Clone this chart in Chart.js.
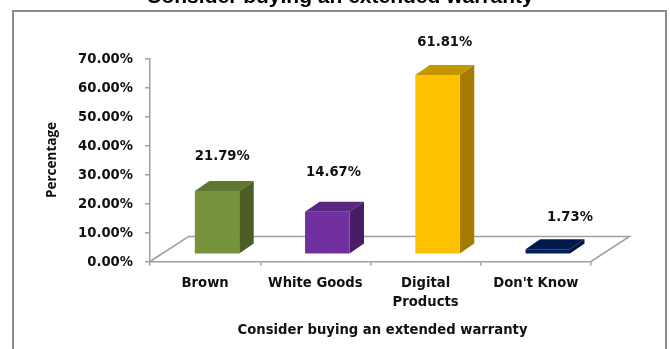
<!DOCTYPE html>
<html>
<head>
<meta charset="utf-8">
<style>
    html, body { margin: 0; padding: 0; background: #fff; overflow: hidden; }
    canvas { display: block; }
</style>
<script src="https://cdn.jsdelivr.net/npm/chart.js@4"></script>
</head>
<body>
<canvas id="chart" width="670" height="349"></canvas>
<script>
const categories = ['Brown', 'White Goods', ['Digital', 'Products'], "Don't Know"];
const percentages = [21.79, 14.67, 61.81, 1.73];
const yTicks = [0, 10, 20, 30, 40, 50, 60, 70];
const chartTitle = 'Consider buying an extended warranty';
const xTitle = 'Consider buying an extended warranty';
const yTitle = 'Percentage';

// Front, top and side shades for each bar
const frontColors = ['#77933c', '#7030a0', '#ffc000', '#002060'];
const topColors = ['#5f7630', '#592680', '#c49600', '#001a4d'];
const sideColors = ['#4b5e26', '#471e66', '#a37c00', '#00143c'];

const labelFont = 'bold 13.2px "DejaVu Sans"';
const textColor = '#111';
const axisColor = '#a0a0a0';

// Depth of the floor and of the boxes, in pixels
const floorDepth = { x: 38.5, y: 25 };
const boxDepth = { x: 14.5, y: 10 };
const frontPlane = { x: 11.9, y: 7.2 };
// Where each value label sits relative to its bar's top centre
const labelNudge = [{ x: -17, y: -35 }, { x: -16, y: -39 }, { x: -15, y: -32 }, { x: 0, y: -32 }];

const box3d = {
    id: 'box3d',
    beforeDraw(chart) {
        const { ctx } = chart;
        // Outer frame runs off the bottom of the page
        ctx.save();
        ctx.strokeStyle = '#8c8c8c';
        ctx.lineWidth = 2;
        ctx.beginPath();
        ctx.moveTo(13, 349);
        ctx.lineTo(13, 11);
        ctx.lineTo(666, 11);
        ctx.lineTo(666, 349);
        ctx.stroke();
        ctx.fillStyle = '#000';
        ctx.font = 'bold 21px "Liberation Sans"';
        ctx.textAlign = 'center';
        ctx.textBaseline = 'alphabetic';
        ctx.fillText(chartTitle, 340, 3);
        ctx.restore();
    },
    beforeDatasetsDraw(chart) {
        const { ctx, scales } = chart;
        const left = scales.x.left, right = scales.x.right, floorY = scales.y.getPixelForValue(0);

        // Floor outline behind the bars
        ctx.save();
        ctx.strokeStyle = axisColor;
        ctx.lineWidth = 1.5;
        ctx.beginPath();
        ctx.moveTo(left, floorY);
        ctx.lineTo(left + floorDepth.x, floorY - floorDepth.y);
        ctx.lineTo(right + floorDepth.x, floorY - floorDepth.y);
        ctx.lineTo(right, floorY);
        ctx.stroke();
        ctx.restore();

        // Everything in the dataset layer stands on the middle of the floor
        ctx.save();
        ctx.translate(frontPlane.x, -frontPlane.y);
        chart.getDatasetMeta(0).data.forEach((bar, i) => {
            const x0 = bar.x - bar.width / 2, x1 = bar.x + bar.width / 2;
            ctx.fillStyle = topColors[i];
            ctx.beginPath();
            ctx.moveTo(x0, bar.y);
            ctx.lineTo(x0 + boxDepth.x, bar.y - boxDepth.y);
            ctx.lineTo(x1 + boxDepth.x, bar.y - boxDepth.y);
            ctx.lineTo(x1, bar.y);
            ctx.closePath();
            ctx.fill();
            ctx.fillStyle = sideColors[i];
            ctx.beginPath();
            ctx.moveTo(x1, bar.y);
            ctx.lineTo(x1 + boxDepth.x, bar.y - boxDepth.y);
            ctx.lineTo(x1 + boxDepth.x, bar.base - boxDepth.y);
            ctx.lineTo(x1, bar.base);
            ctx.closePath();
            ctx.fill();
        });
    },
    afterDatasetsDraw(chart) {
        const { ctx } = chart;
        ctx.restore();

        ctx.save();
        ctx.fillStyle = textColor;
        ctx.font = labelFont;
        ctx.textAlign = 'center';
        ctx.textBaseline = 'middle';
        // Value labels
        chart.getDatasetMeta(0).data.forEach((bar, i) => {
            const x = bar.x + frontPlane.x + bar.width / 2 + labelNudge[i].x;
            const y = bar.y - frontPlane.y + labelNudge[i].y;
            ctx.fillText(percentages[i].toFixed(2) + '%', x, y);
        });
        // Axis title is centred on the floor, not on the front edge
        ctx.fillText(xTitle, 382.5, 331);
        ctx.restore();
    }
};

new Chart(document.getElementById('chart'), {
    type: 'bar',
    data: {
        labels: categories,
        datasets: [{
            data: percentages,
            backgroundColor: frontColors,
            categoryPercentage: 1,
            barPercentage: 0.403
        }]
    },
    options: {
        responsive: false,
        animation: false,
        layout: { padding: { left: 44, right: 79, top: 58.5, bottom: 14 } },
        plugins: { legend: { display: false }, tooltip: { enabled: false }, title: { display: false } },
        scales: {
            x: {
                grid: { drawOnChartArea: false, color: axisColor, tickLength: 4, lineWidth: 1.5 },
                border: { color: axisColor, width: 1.5 },
                ticks: {
                    color: textColor,
                    font: { family: 'DejaVu Sans', size: 13.2, weight: 'bold', lineHeight: 1.44 },
                    maxRotation: 0,
                    autoSkip: false,
                    padding: 9
                },
                afterFit(scale) { scale.height = 73.5; }
            },
            y: {
                min: 0,
                max: 70,
                grid: { drawOnChartArea: false, color: axisColor, tickLength: 5, lineWidth: 1.5 },
                border: { color: axisColor, width: 1.5 },
                afterBuildTicks(scale) { scale.ticks = yTicks.map(value => ({ value })); },
                ticks: {
                    color: textColor,
                    font: { family: 'DejaVu Sans', size: 13.2, weight: 'bold' },
                    padding: 12,
                    labelOffset: 1,
                    callback: value => value.toFixed(2) + '%'
                },
                title: { display: true, text: yTitle, color: textColor, font: { family: 'Open Sans', size: 13.5, weight: 'bold' }, padding: 0 },
                afterFit(scale) { scale.width = 106; }
            }
        }
    },
    plugins: [box3d]
});
</script>
</body>
</html>
